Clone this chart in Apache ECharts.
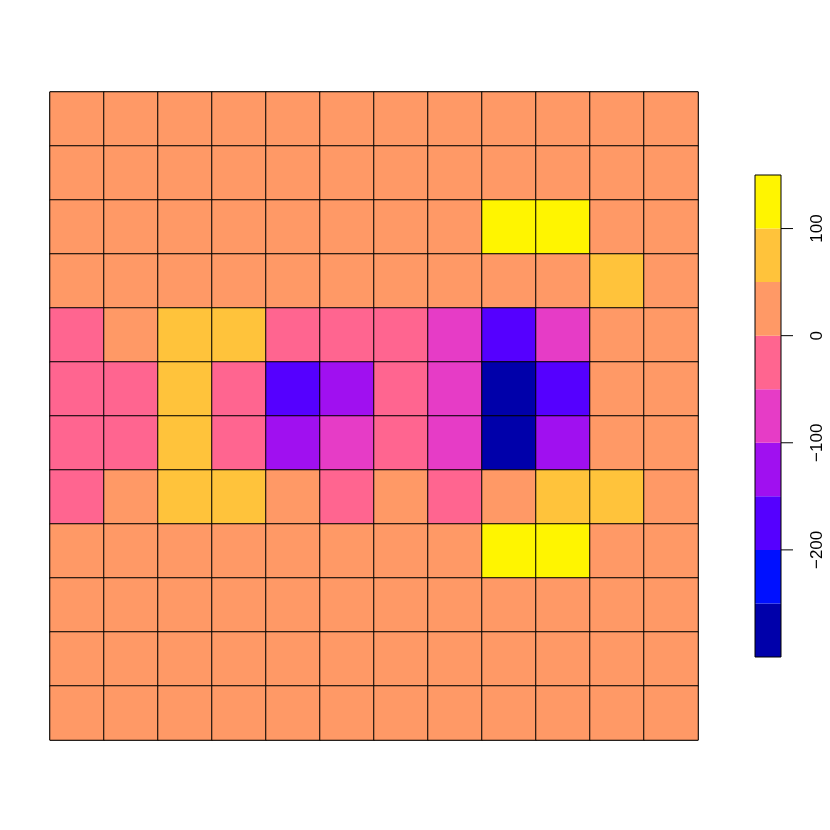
<!DOCTYPE html>
<html>
<head>
<meta charset="utf-8">
<script src="https://cdn.jsdelivr.net/npm/echarts@6/dist/echarts.min.js"></script>
<style>
  html, body { margin: 0; padding: 0; background: #fff; }
  #main { width: 830px; height: 830px; }
</style>
</head>
<body>
<div id="main"></div>
<script>
// colour band edges and colours (bottom to top)
var breaks = [-300, -250, -200, -150, -100, -50, 0, 50, 100, 150];
var bandColors = ['#0000AA', '#0010FF', '#5500FF', '#A010F0', '#E63CC6',
                  '#FF6590', '#FF9966', '#FFC33B', '#FFF500'];
var colorTicks = [-200, -100, 0, 100];

// cell values, rows listed top to bottom
var row01 = [20, 20, 20, 20, 20, 20, 20, 20, 20, 20, 20, 20];
var row02 = [20, 20, 20, 20, 20, 20, 20, 20, 20, 20, 20, 20];
var row03 = [20, 20, 20, 20, 20, 20, 20, 20, 130, 130, 20, 20];
var row04 = [20, 20, 20, 20, 20, 20, 20, 20, 20, 20, 75, 20];
var row05 = [-25, 20, 75, 75, -25, -25, -25, -75, -175, -75, 20, 20];
var row06 = [-25, -25, 75, -25, -175, -125, -25, -75, -280, -175, 20, 20];
var row07 = [-25, -25, 75, -25, -125, -75, -25, -75, -280, -125, 20, 20];
var row08 = [-25, 20, 75, 75, 20, -25, 20, -25, 20, 75, 75, 20];
var row09 = [20, 20, 20, 20, 20, 20, 20, 20, 130, 130, 20, 20];
var row10 = [20, 20, 20, 20, 20, 20, 20, 20, 20, 20, 20, 20];
var row11 = [20, 20, 20, 20, 20, 20, 20, 20, 20, 20, 20, 20];
var row12 = [20, 20, 20, 20, 20, 20, 20, 20, 20, 20, 20, 20];
var rows = [row01, row02, row03, row04, row05, row06, row07, row08, row09, row10, row11, row12];

var cols = [];
for (var i = 0; i < 12; i++) cols.push(String(i + 1));

var cells = [];
rows.forEach(function (r, y) {
    r.forEach(function (v, x) { cells.push([x, y, v]); });
});

var pieces = [];
var bands = [];
for (var k = 0; k < bandColors.length; k++) {
    pieces.push({ gte: breaks[k], lt: breaks[k + 1], color: bandColors[k] });
    bands.push([breaks[k], breaks[k + 1], k]);
}

var myChart = echarts.init(document.getElementById('main'));
var option = {
    backgroundColor: '#fff',
    animation: false,
    textStyle: { fontFamily: 'Liberation Sans, Arial, sans-serif' },
    grid: [
        { left: 50, top: 92, width: 648, height: 648, show: true, borderColor: '#000', borderWidth: 1 },
        { left: 755, top: 175, width: 26, height: 482, show: false }
    ],
    xAxis: [
        { gridIndex: 0, type: 'category', data: cols, show: false },
        { gridIndex: 1, type: 'value', min: 0, max: 1, show: false }
    ],
    yAxis: [
        { gridIndex: 0, type: 'category', data: cols, inverse: true, show: false },
        {
            gridIndex: 1, type: 'value', position: 'right', min: -300, max: 150,
            axisLine: { show: false },
            splitLine: { show: false },
            axisTick: { show: false },
            axisLabel: {
                show: true, customValues: colorTicks, rotate: 90, margin: 28,
                color: '#000', fontSize: 17,
                formatter: function (v) { return String(v).replace('-', '\u2212'); }
            }
        }
    ],
    visualMap: {
        type: 'piecewise', show: false, dimension: 2, seriesIndex: 0,
        pieces: pieces
    },
    series: [
        {
            type: 'heatmap', xAxisIndex: 0, yAxisIndex: 0, data: cells,
            itemStyle: { borderColor: '#000', borderWidth: 1 },
            emphasis: { disabled: true }
        },
        {
            type: 'custom', xAxisIndex: 1, yAxisIndex: 1, data: bands,
            renderItem: function (params, api) {
                var p0 = api.coord([0, api.value(0)]);
                var p1 = api.coord([1, api.value(1)]);
                var children = [{
                    type: 'rect',
                    shape: { x: p0[0], y: p1[1], width: p1[0] - p0[0], height: p0[1] - p1[1] },
                    style: { fill: bandColors[api.value(2)], stroke: null }
                }];
                if (params.dataIndex === bands.length - 1) {
                    var b0 = api.coord([0, breaks[0]]);
                    var b1 = api.coord([1, breaks[breaks.length - 1]]);
                    children.push({
                        type: 'rect', z2: 10,
                        shape: { x: b0[0], y: b1[1], width: b1[0] - b0[0], height: b0[1] - b1[1] },
                        style: { fill: null, stroke: '#000', lineWidth: 1 }
                    });
                    colorTicks.forEach(function (t) {
                        var q = api.coord([1, t]);
                        children.push({
                            type: 'line', z2: 10,
                            shape: { x1: q[0], y1: q[1], x2: q[0] + 12, y2: q[1] },
                            style: { stroke: '#000', lineWidth: 1 }
                        });
                    });
                }
                return { type: 'group', children: children };
            }
        }
    ]
};
myChart.setOption(option);
</script>
</body>
</html>
